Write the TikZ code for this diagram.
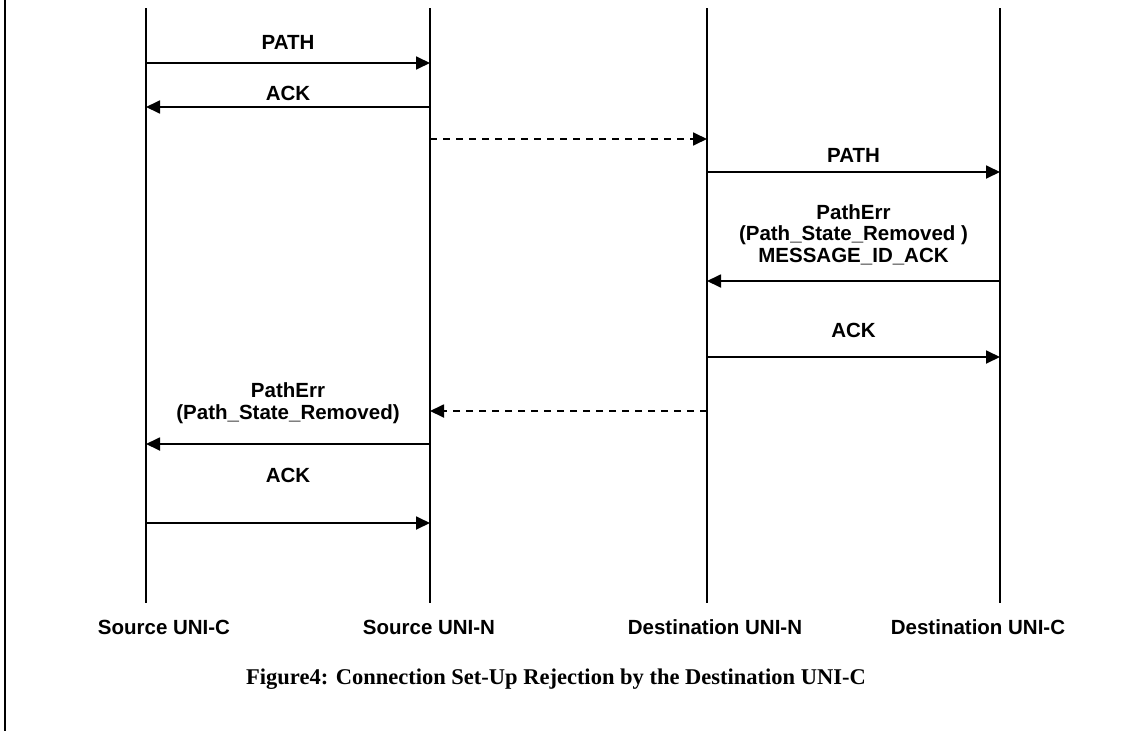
\documentclass[tikz,border=0pt]{standalone}
\usepackage{fontspec}
\setmainfont{Liberation Serif}
\setsansfont{Liberation Sans}
\usetikzlibrary{arrows.meta}
\begin{document}
\begin{tikzpicture}[x=1pt,y=-1pt,
  lifeline/.style={line width=1.6pt},
  msg/.style={line width=1.8pt,-{Triangle[length=14pt,width=13pt]}},
  dmsg/.style={msg,dash pattern=on 7pt off 6pt},
  lbl/.style={font=\sffamily\bfseries\fontsize{20.5}{21.5}\selectfont,inner sep=0pt,anchor=base},
  actor/.style={font=\sffamily\bfseries\fontsize{20.5}{23}\selectfont,inner sep=0pt,anchor=base},
  caption/.style={font=\rmfamily\bfseries\fontsize{22.5}{26}\selectfont,inner sep=0pt,anchor=base}]
\useasboundingbox (0,0) rectangle (1130,731);

% frame line on the left
\draw[line width=2pt] (5,0) -- (5,731);

% lifelines
\foreach \n/\x in {sc/146, sn/430, dn/707, dc/1000} {
  \coordinate (\n top) at (\x,8);
  \coordinate (\n bot) at (\x,603);
  \draw[lifeline] (\n top) -- (\n bot);
}

% message end points
\coordinate (m1a) at (146,63);  \coordinate (m1b) at (430,63);
\coordinate (m2a) at (430,107); \coordinate (m2b) at (146,107);
\coordinate (m3a) at (430,139); \coordinate (m3b) at (707,139);
\coordinate (m4a) at (707,172); \coordinate (m4b) at (1000,172);
\coordinate (m5a) at (1000,281); \coordinate (m5b) at (707,281);
\coordinate (m6a) at (707,357); \coordinate (m6b) at (1000,357);
\coordinate (m7a) at (707,411); \coordinate (m7b) at (430,411);
\coordinate (m8a) at (430,444); \coordinate (m8b) at (146,444);
\coordinate (m9a) at (146,523); \coordinate (m9b) at (430,523);

% messages
\draw[msg] (m1a) -- node[lbl,yshift=14pt] (l1) {PATH} (m1b);
\draw[msg] (m2a) -- node[lbl,yshift=7pt] (l2) {ACK} (m2b);
\draw[dmsg] (m3a) -- (m3b);
\draw[msg] (m4a) -- node[lbl,yshift=10pt] (l4) {PATH} (m4b);
\draw[msg] (m5a) -- node[lbl,yshift=19pt] (l5)
  {\begin{tabular}[b]{@{}c@{}}PathErr\\(Path\_State\_Removed )\\MESSAGE\_ID\_ACK\end{tabular}} (m5b);
\draw[msg] (m6a) -- node[lbl,yshift=20pt] (l6) {ACK} (m6b);
\draw[dmsg] (m7a) -- (m7b);
\draw[msg] (m8a) -- node[lbl,yshift=25pt] (l8)
  {\begin{tabular}[b]{@{}c@{}}PathErr\\(Path\_State\_Removed)\end{tabular}} (m8b);
\draw[msg] (m9a) -- node[lbl,yshift=41pt] (l9) {ACK} (m9b);

% actor names
\node[actor] (nsc) at (164,634) {Source UNI-C};
\node[actor] (nsn) at (429,634) {Source UNI-N};
\node[actor] (ndn) at (715,634) {Destination UNI-N};
\node[actor] (ndc) at (978,634) {Destination UNI-C};

% figure caption
\node[caption] (cap) at (556,684) {Figure4: Connection Set-Up Rejection by the Destination UNI-C};
\end{tikzpicture}
\end{document}
